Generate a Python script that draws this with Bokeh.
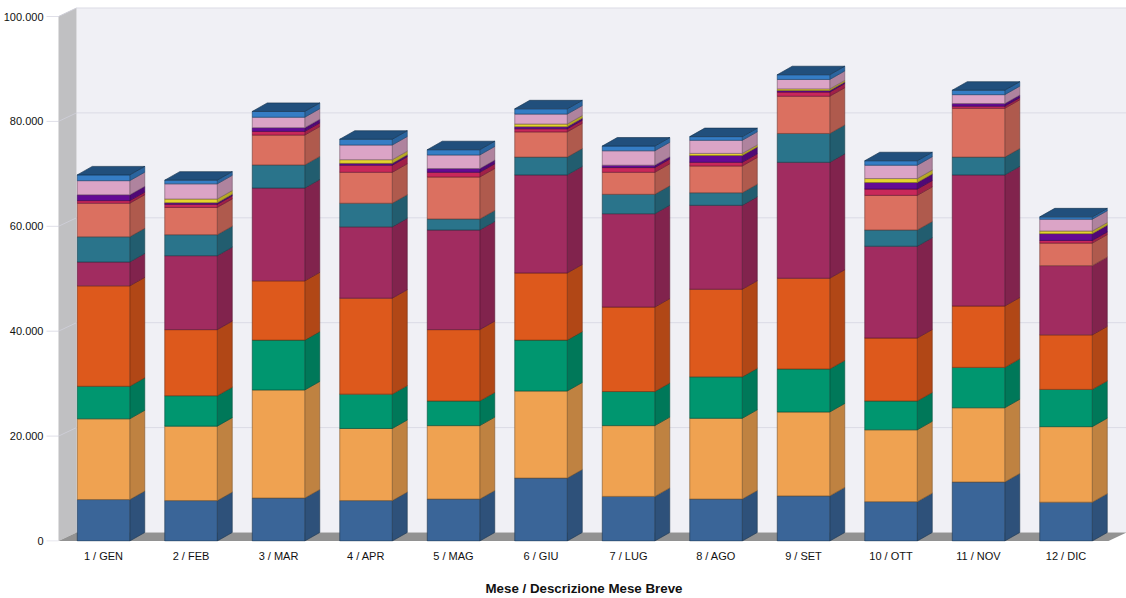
from bokeh.plotting import figure
from bokeh.models import FixedTicker, Range1d
from bokeh.embed import file_html
from bokeh.resources import INLINE

months = ["1 / GEN", "2 / FEB", "3 / MAR", "4 / APR", "5 / MAG", "6 / GIU",
          "7 / LUG", "8 / AGO", "9 / SET", "10 / OTT", "11 / NOV", "12 / DIC"]
tick_values = [0, 20000, 40000, 60000, 80000, 100000]
tick_labels = ["0", "20.000", "40.000", "60.000", "80.000", "100.000"]
axis_title = "Mese / Descrizione Mese Breve"

s01 = [7900, 7700, 8200, 7700, 8000, 12000, 8500, 8000, 8600, 7500, 11250, 7400]
s02 = [15400, 14200, 20600, 13750, 14000, 16600, 13500, 15400, 16000, 13700, 14150, 14400]
s03 = [6200, 5800, 9500, 6550, 4700, 9700, 6500, 7900, 8200, 5500, 7700, 7100]
s04 = [19150, 12600, 11300, 18300, 13600, 12800, 16100, 16700, 17300, 12000, 11700, 10400]
s05 = [4550, 14100, 17700, 13600, 19000, 18700, 17800, 16000, 22100, 17500, 25000, 13200]
s06 = [4800, 4000, 4400, 4500, 2100, 3400, 3700, 2400, 5500, 3100, 3400, 0]
s07 = [6400, 5200, 5700, 5900, 8000, 4800, 4200, 5100, 7100, 6600, 9300, 4300]
s08 = [500, 600, 700, 1350, 900, 600, 900, 700, 800, 1200, 400, 500]
s09 = [1100, 300, 700, 350, 700, 400, 450, 1300, 300, 1250, 500, 1300]
s10 = [0, 700, 0, 700, 0, 500, 0, 400, 300, 750, 0, 500]
s11 = [2700, 2900, 2000, 2800, 2600, 1900, 2750, 2500, 1800, 2550, 1700, 2250]
s12 = [1100, 700, 1100, 1100, 1000, 1000, 900, 700, 900, 850, 850, 450]
series = [s01, s02, s03, s04, s05, s06, s07, s08, s09, s10, s11, s12]
colors = ["#3A6598", "#EFA251", "#00966F", "#DD591C", "#A12C60", "#2A748B",
          "#DB7060", "#C8285A", "#640A94", "#E5D32E", "#DBA4C6", "#357DC5"]

PX_X = 87.5      # pixels per category
PX_Y = 0.005245  # pixels per value unit
BAR_W = 52.5 / PX_X
BAR_DX, BAR_DY = 15 / PX_X, 8.5 / PX_Y
WALL_DX, WALL_DY = 18 / PX_X, 8.5 / PX_Y
TICK_LEN = 12 / PX_X


def shade(hex_color, k):
    return "#" + "".join(f"{round(int(hex_color[i:i + 2], 16) * k):02x}" for i in (1, 3, 5))


# the frame starts left of the wall so the axis title centres under the bars
p = figure(width=1126, height=598, output_backend="svg", toolbar_location=None,
           x_range=Range1d(-62 / PX_X, 1023 / PX_X),
           y_range=Range1d(-0.5 / PX_Y, 540.5 / PX_Y),
           min_border_left=41, min_border_right=0, min_border_top=0, min_border_bottom=57,
           background_fill_color="white", border_fill_color="white", outline_line_color=None)
p.grid.visible = False

x0 = -45 / PX_X
x1 = p.x_range.end
ymax = max(tick_values)

# walls and floor
p.patch([x0 + WALL_DX, x1, x1, x0 + WALL_DX],
        [WALL_DY, WALL_DY, ymax + WALL_DY, ymax + WALL_DY],
        fill_color="#F0F0F5", line_color=None)
p.patch([x0, x0 + WALL_DX, x0 + WALL_DX, x0], [0, WALL_DY, ymax + WALL_DY, ymax],
        fill_color="#C0C0C2", line_color=None)
p.patch([x0, x0 + WALL_DX, x1, x1 - WALL_DX], [0, WALL_DY, WALL_DY, 0],
        fill_color="#929292", line_color=None)

# tick marks and gridlines on back wall and side wall
grid_y = [t + WALL_DY for t in tick_values[1:]]
p.segment([x0 - TICK_LEN] * 6, tick_values, [x0] * 6, tick_values, line_color="#DFDFE8", line_width=1)
p.segment([x0 + WALL_DX] * 5, grid_y, [x1] * 5, grid_y, line_color="#DBDBE5", line_width=1)
p.segment([x0] * 5, tick_values[1:], [x0 + WALL_DX] * 5, grid_y, line_color="#CDCDD6", line_width=1)

# bars
bottoms = [0] * len(months)
for vals, col in zip(series, colors):
    edge = shade(col, 0.55)
    side = shade(col, 0.8)
    rows = [i for i, v in enumerate(vals) if v > 0]
    right = [i + BAR_W / 2 for i in rows]
    b = [bottoms[i] for i in rows]
    t = [bottoms[i] + vals[i] for i in rows]
    p.patches(xs=[[r, r + BAR_DX, r + BAR_DX, r] for r in right],
              ys=[[lo, lo + BAR_DY, hi + BAR_DY, hi] for lo, hi in zip(b, t)],
              fill_color=side, line_color=edge, line_width=0.8, line_alpha=0.8)
    p.vbar(x=rows, width=BAR_W, bottom=b, top=t,
           fill_color=col, line_color=edge, line_width=0.8, line_alpha=0.8)
    bottoms = [bottoms[i] + vals[i] for i in range(len(vals))]

# top caps
lefts = [i - BAR_W / 2 for i in range(len(months))]
rights = [i + BAR_W / 2 for i in range(len(months))]
cap = shade(colors[-1], 0.63)
p.patches(xs=[[l, l + BAR_DX, r + BAR_DX, r] for l, r in zip(lefts, rights)],
          ys=[[h, h + BAR_DY, h + BAR_DY, h] for h in bottoms],
          fill_color=cap, line_color=shade(colors[-1], 0.4), line_width=0.8, line_alpha=0.8)

# axes
ya = p.yaxis[0]
ya.ticker = FixedTicker(ticks=tick_values)
ya.major_label_overrides = dict(zip(tick_values, tick_labels))
ya.axis_line_color = None
ya.major_tick_line_color = None
ya.major_tick_out = 0
ya.major_tick_in = 0
ya.minor_tick_line_color = None
ya.major_label_standoff = -2
ya.major_label_text_font = "Liberation Sans"
ya.major_label_text_font_size = "11px"
ya.major_label_text_color = "#111111"

xa = p.xaxis[0]
xa.ticker = FixedTicker(ticks=list(range(len(months))))
xa.major_label_overrides = dict(zip(range(len(months)), months))
xa.axis_line_color = None
xa.major_tick_line_color = None
xa.minor_tick_line_color = None
xa.major_label_standoff = 2
xa.major_label_text_font = "Liberation Sans"
xa.major_label_text_font_size = "11px"
xa.major_label_text_color = "#111111"
xa.axis_label = axis_title
xa.axis_label_standoff = 16
xa.axis_label_text_font = "Liberation Sans"
xa.axis_label_text_font_size = "13.33px"
xa.axis_label_text_font_style = "bold"
xa.axis_label_text_color = "#111111"

open("out.html", "w").write(file_html(p, INLINE))
